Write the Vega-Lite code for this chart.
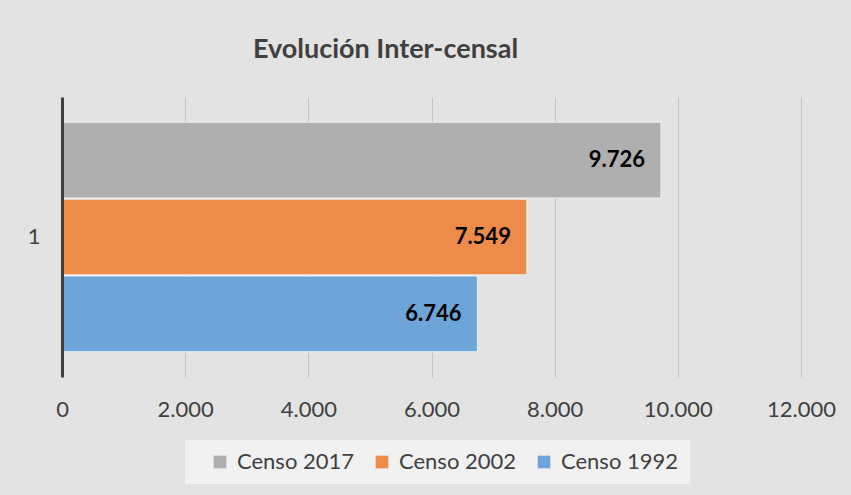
{
  "$schema": "https://vega.github.io/schema/vega-lite/v6.json",
  "autosize": {"type": "none"},
  "width": 739,
  "height": 280,
  "padding": {"left": 62, "top": 97, "right": 50, "bottom": 118},
  "background": "#e3e3e3",
  "title": {
    "text": "Evolución Inter-censal",
    "font": "Lato",
    "fontSize": 27,
    "fontWeight": "bold",
    "color": "#404040",
    "anchor": "middle",
    "dx": -46,
    "offset": 33
  },
  "config": {
    "locale": {"number": {"decimal": ",", "thousands": ".", "grouping": [3], "currency": ["$", ""]}},
    "view": {"stroke": null},
    "font": "Lato"
  },
  "data": {
    "values": [
      {"cat": "1", "serie": "Censo 2017", "valor": 9726},
      {"cat": "1", "serie": "Censo 2002", "valor": 7549},
      {"cat": "1", "serie": "Censo 1992", "valor": 6746}
    ]
  },
  "encoding": {
    "y": {
      "field": "cat",
      "type": "nominal",
      "scale": {"paddingOuter": 0.11, "paddingInner": 0},
      "axis": {
        "title": null,
        "ticks": false,
        "zindex": 1,
        "domainColor": "#404040",
        "domainWidth": 3,
        "labelFontSize": 22,
        "labelColor": "#404040",
        "labelPadding": 22,
        "labelFont": "Lato"
      }
    },
    "yOffset": {
      "field": "serie",
      "type": "nominal",
      "sort": ["Censo 2017", "Censo 2002", "Censo 1992"],
      "scale": {"paddingInner": 0.015}
    },
    "x": {
      "field": "valor",
      "type": "quantitative",
      "scale": {"domain": [0, 12000], "nice": false},
      "axis": {
        "title": null,
        "values": [0, 2000, 4000, 6000, 8000, 10000, 12000],
        "format": ",d",
        "domain": false,
        "ticks": false,
        "labelFlush": false,
        "gridColor": "#c3c3c3",
        "gridWidth": 1,
        "labelFontSize": 22,
        "labelColor": "#404040",
        "labelPadding": 22,
        "labelFont": "Lato"
      }
    }
  },
  "layer": [
    {
      "mark": {"type": "bar", "stroke": "#f2f2f2", "strokeWidth": 1},
      "encoding": {
        "color": {
          "field": "serie",
          "type": "nominal",
          "sort": ["Censo 2017", "Censo 2002", "Censo 1992"],
          "scale": {
            "domain": ["Censo 2017", "Censo 2002", "Censo 1992"],
            "range": ["#afafaf", "#ed8b4a", "#6ea5d8"]
          },
          "legend": {
            "title": null,
            "orient": "none",
            "legendX": 123,
            "legendY": 343,
            "direction": "horizontal",
            "symbolType": "square",
            "symbolSize": 160,
            "symbolStrokeWidth": 0,
            "symbolOffset": 13,
            "labelFontSize": 22,
            "labelColor": "#404040",
            "labelFont": "Lato",
            "labelOffset": 6,
            "columnPadding": 3,
            "fillColor": "#f1f1f1",
            "padding": 11
          }
        }
      }
    },
    {
      "mark": {"type": "text", "align": "right", "dx": -16, "fontSize": 22, "fontWeight": "bold", "color": "#000000", "font": "Lato"},
      "encoding": {
        "text": {"field": "valor", "type": "quantitative", "format": ",d"}
      }
    }
  ]
}
